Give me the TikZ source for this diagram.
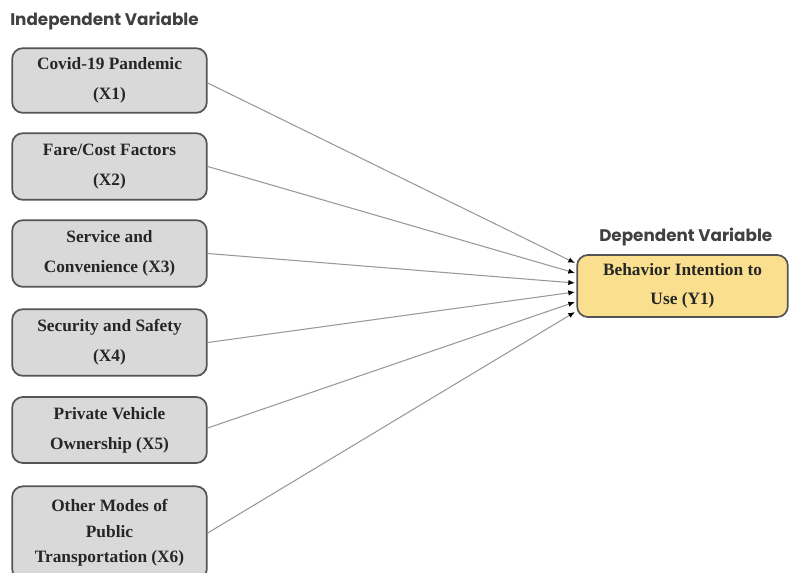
\documentclass[tikz,border=0pt]{standalone}
\usepackage{fontspec}
\setmainfont{Liberation Serif}
\newfontfamily\headfont{Poppins}
\usepackage{xcolor}
\usetikzlibrary{arrows.meta}
\definecolor{boxgray}{HTML}{D9D9D9}
\definecolor{boxline}{HTML}{555555}
\definecolor{depfill}{HTML}{FAE08E}
\definecolor{linkgray}{HTML}{999999}
\tikzset{
    varbox/.style={
        draw=boxline,
        fill=boxgray,
        line width=1.3pt,
        rounded corners=8pt,
        minimum width=146pt,
        align=center,
        font=\fontsize{13}{22.5}\selectfont\bfseries,
        text=black!85
    },
    depbox/.style={
        varbox,
        fill=depfill,
        minimum width=158pt,
        minimum height=46.5pt,
        font=\fontsize{13}{22}\selectfont\bfseries
    },
    heading/.style={
        font=\headfont\fontsize{12.6}{15}\selectfont\bfseries,
        text=black!75,
        inner sep=0pt
    },
    link/.style={
        draw=linkgray,
        line width=0.8pt,
        -{Latex[length=5pt, width=4pt, black]}
    }
}

\begin{document}
\begin{tikzpicture}[x=0.75pt, y=-0.75pt]
    \useasboundingbox (0,0) rectangle (789,572);

    % headings
    \node[heading, anchor=west] (indep) at (10,21) {Independent Variable};
    \node[heading, anchor=west] (dep) at (599,237) {Dependent Variable};

    % independent variables
    \node[varbox, minimum height=48.5pt] (x1) at (109.5,80.5) {Covid-19 Pandemic\\(X1)};
    \node[varbox, minimum height=50pt] (x2) at (109.5,166.5) {Fare/Cost Factors\\(X2)};
    \node[varbox, minimum height=50pt] (x3) at (109.5,253.5) {Service and\\Convenience (X3)};
    \node[varbox, minimum height=50pt] (x4) at (109.5,342.5) {Security and Safety\\(X4)};
    \node[varbox, minimum height=49.5pt] (x5) at (109.5,430) {Private Vehicle\\Ownership (X5)};
    \node[varbox, minimum height=70pt, font=\fontsize{13}{19}\selectfont\bfseries] (x6) at (109.5,533) {Other Modes of\\Public\\Transportation (X6)};

    % dependent variable
    \node[depbox] (y1) at (682.5,286) {Behavior Intention to\\Use (Y1)};

    % arrow ends along the left side of y1
    \coordinate (t1) at (575,263);
    \coordinate (t2) at (575,273);
    \coordinate (t3) at (575,283);
    \coordinate (t4) at (575,292);
    \coordinate (t5) at (575,302);
    \coordinate (t6) at (575,312);

    \draw[link] (x1.east |- 0,83) -- (t1);
    \draw[link] (x2.east) -- (t2);
    \draw[link] (x3.east) -- (t3);
    \draw[link] (x4.east) -- (t4);
    \draw[link] (x5.east |- 0,428) -- (t5);
    \draw[link] (x6.east) -- (t6);
\end{tikzpicture}
\end{document}
